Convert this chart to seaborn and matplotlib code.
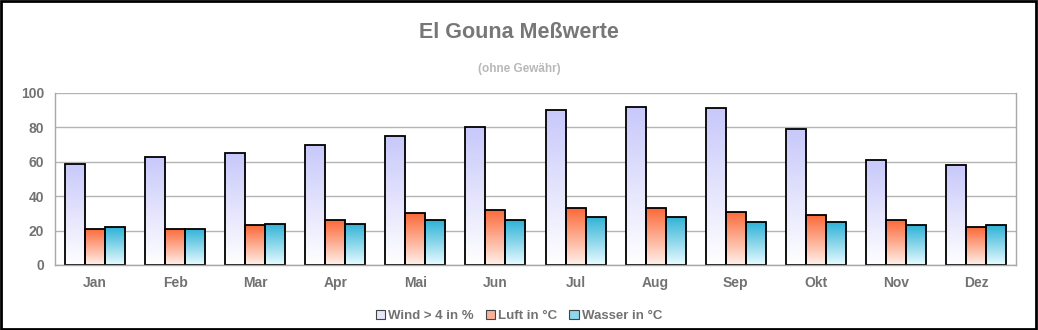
import numpy as np
import pandas as pd
import matplotlib
matplotlib.use("Agg")
import matplotlib.pyplot as plt
import seaborn as sns
from matplotlib.colors import LinearSegmentedColormap
from matplotlib.patches import Rectangle

months = ["Jan", "Feb", "Mar", "Apr", "Mai", "Jun", "Jul", "Aug", "Sep", "Okt", "Nov", "Dez"]
wind = [59, 63, 65, 70, 75, 80, 90, 92, 91, 79, 61, 58]
luft = [21, 21, 23, 26, 30, 32, 33, 33, 31, 29, 26, 22]
wasser = [22, 21, 24, 24, 26, 26, 28, 28, 25, 25, 23, 23]
series = ["Wind > 4 in %", "Luft in °C", "Wasser in °C"]

df = pd.DataFrame({
    "Monat": months * 3,
    "Serie": [series[0]] * 12 + [series[1]] * 12 + [series[2]] * 12,
    "Wert": wind + luft + wasser,
})

top_cols = ["#c8c8fb", "#fb6a3a", "#2fb2d6"]
bot_cols = ["#ffffff", "#fff0ea", "#e8fbff"]

sns.set_theme(style="white")
plt.rcParams["font.family"] = ["Liberation Sans", "DejaVu Sans"]

fig = plt.figure(figsize=(10.38, 3.30), dpi=100)
ax = fig.add_axes([55 / 1038, 1 - 265 / 330, (1016 - 55) / 1038, (265 - 93) / 330])

sns.barplot(data=df, x="Monat", y="Wert", hue="Serie", hue_order=series,
            palette=top_cols, width=0.75, ax=ax, legend=False,
            edgecolor="black", linewidth=1.3, saturation=1)

ax.set_ylim(0, 100)
ax.set_xlim(-0.5, 11.5)

# gradient fills
patches = list(ax.patches)
for i, p in enumerate(patches):
    s = i // 12
    x, y = p.get_x(), p.get_y()
    w, h = p.get_width(), p.get_height()
    if h <= 0:
        continue
    cmap = LinearSegmentedColormap.from_list("g", [bot_cols[s], top_cols[s]])
    grad = np.linspace(0, 1, 100).reshape(-1, 1)
    im = ax.imshow(grad, extent=[x, x + w, y, y + h], origin="lower",
                   aspect="auto", cmap=cmap, zorder=p.get_zorder() - 0.1)
    im.set_clip_path(p)
    p.set_facecolor("none")

ax.set_ylim(0, 100)
ax.set_xlim(-0.5, 11.5)

ax.set_yticks([0, 20, 40, 60, 80, 100])
ax.yaxis.grid(True, color="#b4b4b4", linewidth=1.0)
ax.set_axisbelow(True)
ax.spines["top"].set_visible(False)
for sname in ["left", "bottom", "right"]:
    ax.spines[sname].set_color("#a8a8a8")
    ax.spines[sname].set_linewidth(1.0)

ax.set_xticks(np.arange(12))
ax.set_xticklabels(months)
ax.tick_params(axis="x", length=0, pad=8, labelsize=10, labelcolor="#727272")
ax.tick_params(axis="y", length=6, width=1, color="#a8a8a8", direction="out",
               pad=2, labelsize=10, labelcolor="#727272")
ax.set_xticks(np.arange(-0.5, 12, 1), minor=True)
ax.tick_params(axis="x", which="minor", length=4, width=1, color="#a8a8a8", direction="out")
for lab in ax.get_xticklabels() + ax.get_yticklabels():
    lab.set_fontweight("bold")
ax.set_xlabel("")
ax.set_ylabel("")

fig.text(0.5, 1 - 32 / 330, "El Gouna Meßwerte", ha="center", va="center",
         fontsize=15.5, fontweight="bold", color="#777777")
fig.text(0.5, 1 - 69 / 330, "(ohne Gewähr)", ha="center", va="center",
         fontsize=8.5, fontweight="bold", color="#b8b8b8")

handles = [Rectangle((0, 0), 1, 1, facecolor=c, edgecolor="#444444", linewidth=0.8)
           for c in ["#e6e6fb", "#f9b09a", "#8fd6ea"]]
fig.legend(handles, series, loc="center", bbox_to_anchor=(0.5, 1 - 316 / 330),
           ncol=3, frameon=False, handlelength=0.7, handleheight=0.7,
           handletextpad=0.25, columnspacing=0.9,
           prop={"weight": "bold", "size": 9.5}, labelcolor="#727272")

border = Rectangle((0.001, 0.002), 0.997, 0.995, transform=fig.transFigure,
                   fill=False, edgecolor="black", linewidth=2)
fig.add_artist(border)

fig.savefig("out.png", dpi=100, facecolor="white")
